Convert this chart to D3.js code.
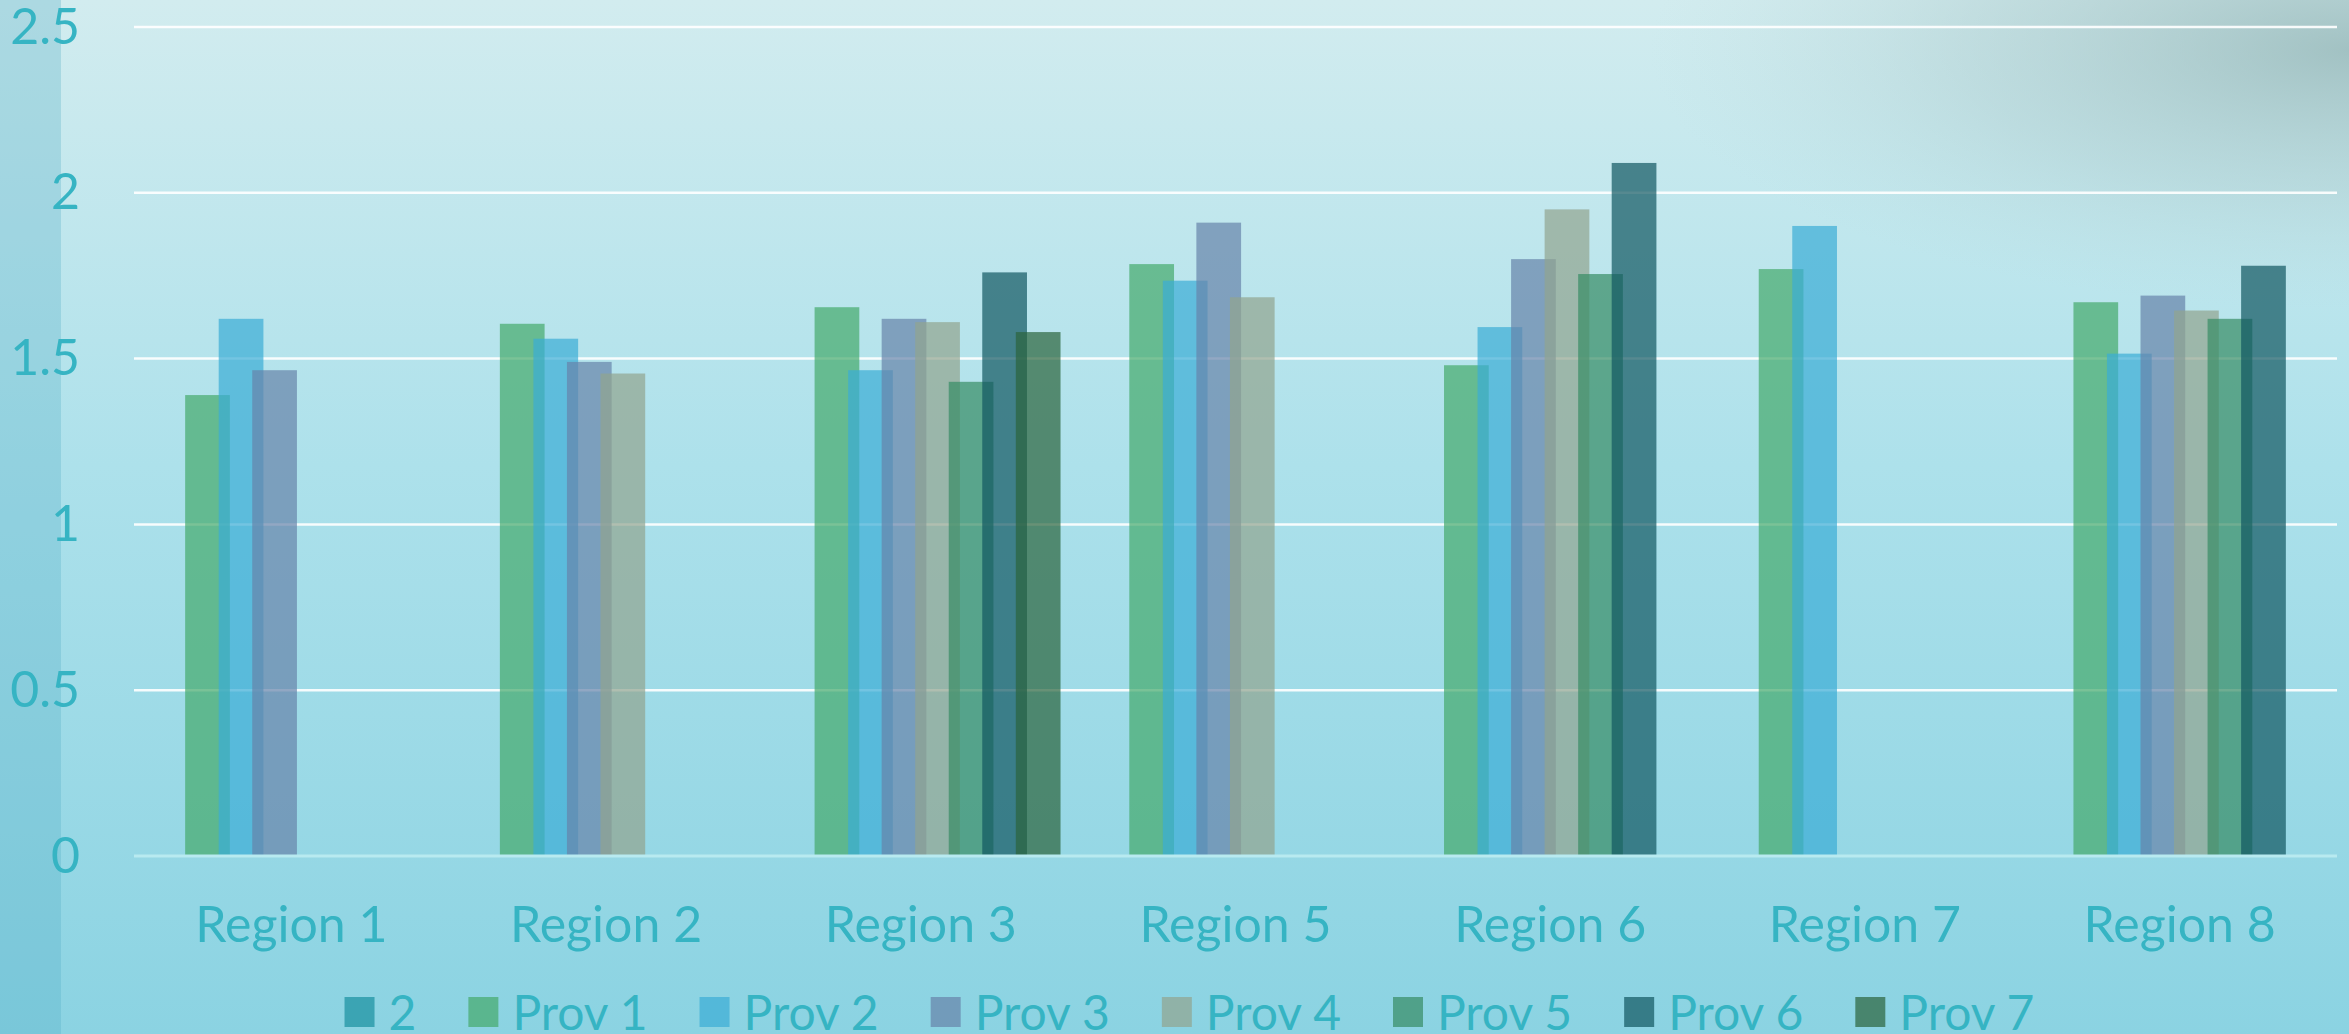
<!DOCTYPE html>
<html>
<head>
<meta charset="utf-8">
<script src="https://cdn.jsdelivr.net/npm/d3@7"></script>
<style>
  html, body { margin: 0; padding: 0; overflow: hidden; }
  svg { display: block; font-family: Lato, "Open Sans", sans-serif; }
</style>
</head>
<body>
<svg id="chart"></svg>
<script>
let width = 2349;
let height = 1034;

// data
let categories = ['Region 1', 'Region 2', 'Region 3', 'Region 5', 'Region 6', 'Region 7', 'Region 8'];
let seriesNames = ['2', 'Prov 1', 'Prov 2', 'Prov 3', 'Prov 4', 'Prov 5', 'Prov 6', 'Prov 7'];
let series2 = [null, null, null, null, null, null, null];
let prov1 = [1.39, 1.605, 1.655, 1.785, 1.48, 1.77, 1.67];
let prov2 = [1.62, 1.56, 1.465, 1.735, 1.595, 1.90, 1.515];
let prov3 = [1.465, 1.49, 1.62, 1.91, 1.80, null, 1.69];
let prov4 = [null, 1.455, 1.61, 1.685, 1.95, null, 1.645];
let prov5 = [null, null, 1.43, null, 1.755, null, 1.62];
let prov6 = [null, null, 1.76, null, 2.09, null, 1.78];
let prov7 = [null, null, 1.58, null, null, null, null];
let yTicks = [0, 0.5, 1, 1.5, 2, 2.5];
let colors = ['#18909f', '#45a96b', '#3badd5', '#6783a9', '#92a48f', '#368c64', '#115761', '#2b643c'];

let seriesValues = [series2, prov1, prov2, prov3, prov4, prov5, prov6, prov7];

let margin = {left: 134, right: 12, top: 27, bottom: 178};
let textColor = '#36b4c3';
let fontSize = '50px';

let svg = d3.select('#chart')
            .attr('width', width)
            .attr('height', height);

// background
let defs = svg.append('defs');
let bgGrad = defs.append('linearGradient')
                 .attr('id', 'bg')
                 .attr('x1', 0).attr('y1', 0).attr('x2', 0).attr('y2', 1);
bgGrad.append('stop').attr('offset', '0%').attr('stop-color', '#d2ecef');
bgGrad.append('stop').attr('offset', '45%').attr('stop-color', '#ade1eb');
bgGrad.append('stop').attr('offset', '100%').attr('stop-color', '#8bd3e2');

let cloud = defs.append('radialGradient')
                .attr('id', 'cloud')
                .attr('cx', 0.5).attr('cy', 0.5).attr('r', 0.5);
cloud.append('stop').attr('offset', '0%').attr('stop-color', '#8fb0b0').attr('stop-opacity', 0.7);
cloud.append('stop').attr('offset', '55%').attr('stop-color', '#a5c3c4').attr('stop-opacity', 0.35);
cloud.append('stop').attr('offset', '100%').attr('stop-color', '#b8d6d8').attr('stop-opacity', 0);

svg.append('rect')
   .attr('width', width).attr('height', height)
   .attr('fill', 'url(#bg)');

svg.append('ellipse')
   .attr('cx', 2349).attr('cy', 50)
   .attr('rx', 700).attr('ry', 260)
   .attr('fill', 'url(#cloud)');

svg.append('rect')
   .attr('x', 0).attr('y', 0)
   .attr('width', 61).attr('height', height)
   .attr('fill', '#4aa9c2')
   .attr('opacity', 0.28);

// scales
let x0 = d3.scaleBand()
           .domain(categories)
           .range([margin.left, width - margin.right]);

let groupW = x0.bandwidth() * 0.888;
let overlap = 0.25;
let barW = groupW / (1 + (seriesNames.length - 1) * (1 - overlap));

let x1 = d3.scalePoint()
           .domain(seriesNames)
           .range([0, groupW - barW]);

let y = d3.scaleLinear()
          .domain([0, 2.5])
          .range([height - margin.bottom, margin.top]);

// gridlines
svg.append('g')
   .selectAll('line')
   .data(yTicks.filter(d => d > 0))
   .enter()
   .append('line')
   .attr('x1', margin.left)
   .attr('x2', width - margin.right)
   .attr('y1', d => y(d))
   .attr('y2', d => y(d))
   .attr('stroke', '#ffffff')
   .attr('stroke-opacity', 0.9)
   .attr('stroke-width', 2.5);

// bars
let bars = [];
seriesNames.forEach(function(s, si) {
  categories.forEach(function(c, ci) {
    let v = seriesValues[si][ci];
    if (v != null) bars.push({series: s, si: si, cat: c, value: v});
  });
});

svg.append('g')
   .selectAll('rect')
   .data(bars)
   .enter()
   .append('rect')
   .attr('x', d => x0(d.cat) + (x0.bandwidth() - groupW) / 2 + x1(d.series))
   .attr('y', d => y(d.value))
   .attr('width', barW)
   .attr('height', d => y(0) - y(d.value))
   .attr('fill', d => colors[d.si])
   .attr('fill-opacity', 0.7);

// baseline
svg.append('line')
   .attr('x1', margin.left)
   .attr('x2', width - margin.right)
   .attr('y1', y(0))
   .attr('y2', y(0))
   .attr('stroke', '#b8eaf0')
   .attr('stroke-width', 3);

// y axis labels
let yAxis = svg.append('g')
               .attr('transform', 'translate(' + margin.left + ',0)')
               .call(d3.axisLeft(y).tickValues(yTicks).tickSize(0).tickPadding(54)
                       .tickFormat(d => d3.format('')(d)));
yAxis.select('.domain').remove();
yAxis.selectAll('text')
     .attr('fill', textColor)
     .style('font-size', fontSize)
     .style('font-family', 'Lato, sans-serif');

// x axis labels
let xAxis = svg.append('g')
               .attr('transform', 'translate(0,' + y(0) + ')')
               .call(d3.axisBottom(x0).tickSize(0));
xAxis.select('.domain').remove();
xAxis.selectAll('text')
     .attr('y', 86)
     .attr('dy', 0)
     .attr('fill', textColor)
     .style('font-size', fontSize)
     .style('font-family', 'Lato, sans-serif');

// legend
let legend = svg.append('g').attr('class', 'legend');
let cursor = 0;
seriesNames.forEach(function(s, i) {
  let g = legend.append('g').attr('transform', 'translate(' + cursor + ',0)');
  g.append('rect')
   .attr('x', 0).attr('y', 997)
   .attr('width', 30).attr('height', 30)
   .attr('fill', colors[i])
   .attr('fill-opacity', 0.7);
  let t = g.append('text')
           .attr('x', 44)
           .attr('y', 1030)
           .attr('fill', textColor)
           .style('font-size', '48px')
           .text(s);
  cursor += 44 + t.node().getComputedTextLength() + 52;
});
let legendW = cursor - 52;
legend.attr('transform', 'translate(' + (1189.5 - legendW / 2) + ',0)');
</script>
</body>
</html>
